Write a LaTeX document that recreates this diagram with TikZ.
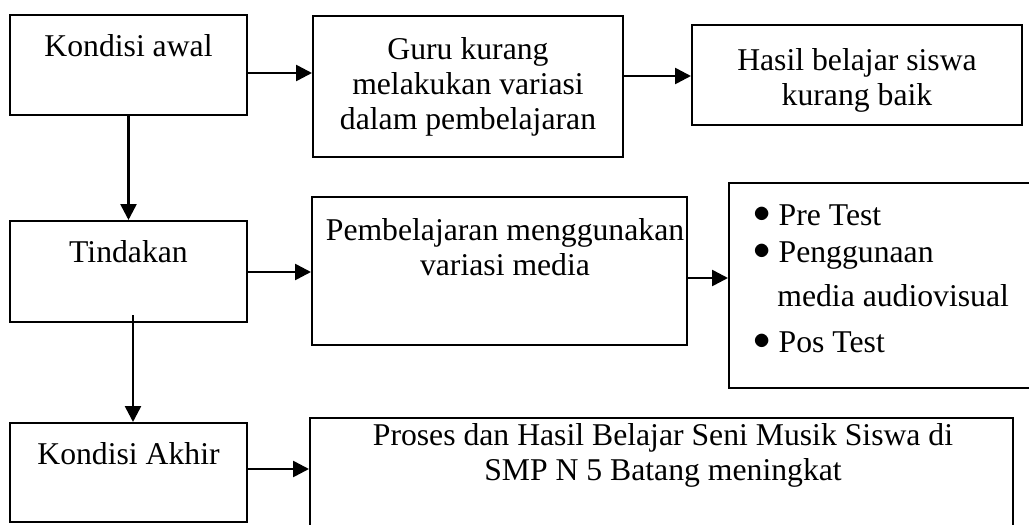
\documentclass[tikz,border=0pt]{standalone}
\usepackage{fontspec}
\setmainfont{Liberation Serif}
\usetikzlibrary{arrows.meta}
\newcommand{\butir}{\raisebox{1.5pt}{$\bullet$}\hspace{4pt}}
\tikzset{
  kotak/.style={draw, line width=1pt, inner sep=0pt},
  teks/.style={anchor=base, inner sep=0pt, font=\fontsize{15.85}{17.5}\selectfont},
  teksk/.style={teks, anchor=base west},
  panah/.style={line width=1.3pt, -{Triangle[length=8pt,width=8pt]}}
}
\begin{document}
\begin{tikzpicture}[x=0.5pt,y=-0.5pt]
   \useasboundingbox (0,0) rectangle (1029,525);
   \clip (0,0) rectangle (1029,525);
   % kotak
   \node[kotak, minimum width=118.5pt, minimum height=50pt] (awal) at (128.5,65) {};
   \node[kotak, minimum width=155pt, minimum height=70.5pt] (guru) at (468,86.5) {};
   \node[kotak, minimum width=165pt, minimum height=50pt] (hasil) at (857,75) {};
   \node[kotak, minimum width=118.5pt, minimum height=50.5pt] (tindakan) at (128.5,271.5) {};
   \node[kotak, minimum width=187.5pt, minimum height=74pt] (media) at (499.5,271) {};
   \node[kotak, minimum width=185.5pt, minimum height=102.5pt] (langkah) at (914.5,285.5) {};
   \node[kotak, minimum width=118.5pt, minimum height=49.5pt] (akhir) at (128.5,472.5) {};
   \node[kotak, minimum width=351.5pt, minimum height=91pt] (tujuan) at (661.5,509) {};
   % teks
   \node[teks] (tawal) at (128.5,56) {Kondisi awal};
   \node[teks] (tguru1) at (468,59) {Guru kurang};
   \node[teks] (tguru2) at (468,94) {melakukan variasi};
   \node[teks] (tguru3) at (468,129) {dalam pembelajaran};
   \node[teks] (thasil1) at (857,70) {Hasil belajar siswa};
   \node[teks] (thasil2) at (857,105) {kurang baik};
   \node[teks] (ttindakan) at (128.5,262) {Tindakan};
   \node[teks] (tmedia1) at (505,240) {Pembelajaran menggunakan};
   \node[teks] (tmedia2) at (505,275) {variasi media};
   \node[teksk] (tl1) at (753,225) {\butir Pre Test};
   \node[teksk] (tl2) at (753,262) {\butir Penggunaan};
   \node[teksk] (tl3) at (777,306) {media audiovisual};
   \node[teksk] (tl4) at (753,352) {\butir Pos Test};
   \node[teks] (takhir) at (128.5,464) {Kondisi Akhir};
   \node[teks] (ttujuan1) at (663,445) {Proses dan Hasil Belajar Seni Musik Siswa di};
   \node[teks] (ttujuan2) at (663,480) {SMP N 5 Batang meningkat};
   % panah
   \coordinate (t1) at (133,315);
   \draw[panah] (awal.east |- 0,73) -- (guru.west |- 0,73);
   \draw[panah] (guru.east |- 0,76) -- (hasil.west |- 0,76);
   \draw[panah] (awal.south) -- (tindakan.north);
   \draw[panah] (tindakan.east |- 0,272) -- (media.west |- 0,272);
   \draw[panah] (media.east |- 0,278) -- (langkah.west |- 0,278);
   \draw[panah] (t1) -- (t1 |- akhir.north);
   \draw[panah] (akhir.east |- 0,469) -- (tujuan.west |- 0,469);
\end{tikzpicture}
\end{document}
